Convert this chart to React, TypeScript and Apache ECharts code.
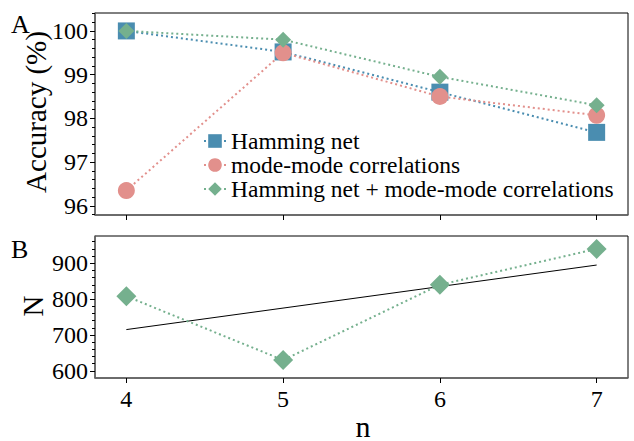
import React, { useEffect, useRef } from "react";
import * as echarts from "echarts";

const nValues = [4, 5, 6, 7];
const hammingNet = [100, 99.52, 98.6, 97.68];
const modeMode = [96.35, 99.5, 98.5, 98.07];
const combined = [100, 99.8, 98.95, 98.3];
const bigN = [808, 630, 840, 940];
const fitN = [4, 7];
const fitValues = [715, 895];

const accTicks = [96, 97, 98, 99, 100];
const accMinorTicks = [95.8, 96.2, 96.4, 96.6, 96.8, 97.2, 97.4, 97.6, 97.8, 98.2, 98.4, 98.6, 98.8, 99.2, 99.4, 99.6, 99.8, 100.2, 100.4];
const nTicks = [600, 700, 800, 900];
const nMinorTicks = [620, 640, 660, 680, 720, 740, 760, 780, 820, 840, 860, 880, 920, 940, 960];

const BLUE = "#4a8db0";
const RED = "#e2908c";
const GREEN = "#75b08e";
const FONT = "Liberation Serif";

export default function App() {
  const ref = useRef<HTMLDivElement>(null);
  useEffect(() => {
    const chart = echarts.init(ref.current!, null, { renderer: "svg" });
    const pair = (ys: number[]) => ys.map((y, i) => [nValues[i], y]);
    const xBase = (gridIndex: number, labels: boolean) => ({
      type: "value",
      gridIndex,
      min: 3.8,
      max: 7.2,
      splitLine: { show: false },
      axisLine: { show: true, onZero: false, lineStyle: { color: "#666", width: 1.5 } },
      axisTick: { show: true, inside: false, length: 5, customValues: nValues, lineStyle: { color: "#000" } },
      axisLabel: { show: labels, customValues: nValues, fontFamily: FONT, fontSize: 24, color: "#000", margin: 9 },
    });
    const yMajor = (gridIndex: number, min: number, max: number, ticks: number[]) => ({
      type: "value",
      gridIndex,
      min,
      max,
      splitLine: { show: false },
      axisLine: { show: true, lineStyle: { color: "#666", width: 1.5 } },
      axisTick: { show: true, length: 5, customValues: ticks, lineStyle: { color: "#000" } },
      axisLabel: { customValues: ticks, fontFamily: FONT, fontSize: 24, color: "#000", margin: 7 },
    });
    const yMinor = (gridIndex: number, min: number, max: number, ticks: number[]) => ({
      type: "value",
      gridIndex,
      min,
      max,
      position: "left",
      splitLine: { show: false },
      axisLine: { show: false },
      axisTick: { show: true, length: 3, customValues: ticks, lineStyle: { color: "#000" } },
      axisLabel: { show: false },
    });
    chart.setOption({
      animation: false,
      textStyle: { fontFamily: FONT },
      grid: [
        { left: 95, top: 13, width: 533, height: 202, show: true, borderColor: "#000", borderWidth: 1 },
        { left: 95, top: 236, width: 533, height: 142, show: true, borderColor: "#000", borderWidth: 1 },
      ],
      xAxis: [xBase(0, false), xBase(1, true)],
      yAxis: [
        yMajor(0, 95.79, 100.41, accTicks),
        yMinor(0, 95.79, 100.41, accMinorTicks),
        yMajor(1, 580, 976, nTicks),
        yMinor(1, 580, 976, nMinorTicks),
      ],
      legend: {
        show: true,
        orient: "vertical",
        left: 203,
        top: 129,
        itemWidth: 22,
        itemHeight: 17,
        itemGap: 0,
        padding: 0,
        textStyle: { fontFamily: FONT, fontSize: 23.5, color: "#000", lineHeight: 23 },
        data: ["Hamming net", "mode-mode correlations", "Hamming net + mode-mode correlations"],
      },
      series: [
        {
          name: "Hamming net",
          type: "line",
          xAxisIndex: 0,
          yAxisIndex: 0,
          data: pair(hammingNet),
          symbol: "rect",
          symbolSize: 17,
          itemStyle: { color: BLUE },
          lineStyle: { color: BLUE, type: [2, 3], width: 2 },
        },
        {
          name: "mode-mode correlations",
          type: "line",
          xAxisIndex: 0,
          yAxisIndex: 0,
          data: pair(modeMode),
          symbol: "circle",
          symbolSize: 17,
          itemStyle: { color: RED },
          lineStyle: { color: RED, type: [2, 3], width: 2 },
        },
        {
          name: "Hamming net + mode-mode correlations",
          type: "line",
          xAxisIndex: 0,
          yAxisIndex: 0,
          data: pair(combined),
          symbol: "diamond",
          symbolSize: 16,
          itemStyle: { color: GREEN },
          lineStyle: { color: GREEN, type: [2, 3], width: 2 },
        },
        {
          name: "fit",
          type: "line",
          xAxisIndex: 1,
          yAxisIndex: 2,
          data: fitN.map((x, i) => [x, fitValues[i]]),
          symbol: "none",
          lineStyle: { color: "#000", width: 1 },
        },
        {
          name: "N",
          type: "line",
          xAxisIndex: 1,
          yAxisIndex: 2,
          data: pair(bigN),
          symbol: "diamond",
          symbolSize: 20,
          itemStyle: { color: GREEN },
          lineStyle: { color: GREEN, type: [2, 3], width: 2 },
        },
      ],
      graphic: [
        { type: "text", left: 11, top: 11, style: { text: "A", font: `26px "${FONT}"`, fill: "#000" } },
        { type: "text", left: 11, top: 236, style: { text: "B", font: `26px "${FONT}"`, fill: "#000" } },
        {
          type: "text",
          x: 36,
          y: 112,
          rotation: Math.PI / 2,
          style: { text: "Accuracy (%)", font: `29px "${FONT}"`, fill: "#000", textAlign: "center", textVerticalAlign: "middle" },
        },
        {
          type: "text",
          x: 33,
          y: 306,
          rotation: Math.PI / 2,
          style: { text: "N", font: `29px "${FONT}"`, fill: "#000", textAlign: "center", textVerticalAlign: "middle" },
        },
        {
          type: "text",
          x: 363,
          y: 441,
          style: { text: "n", font: `30px "${FONT}"`, fill: "#000", textAlign: "center", textVerticalAlign: "bottom" },
        },
      ],
    });
    return () => chart.dispose();
  }, []);
  return <div ref={ref} style={{ position: "fixed", left: 0, top: 0, width: 634, height: 441, background: "#fff" }} />;
}
